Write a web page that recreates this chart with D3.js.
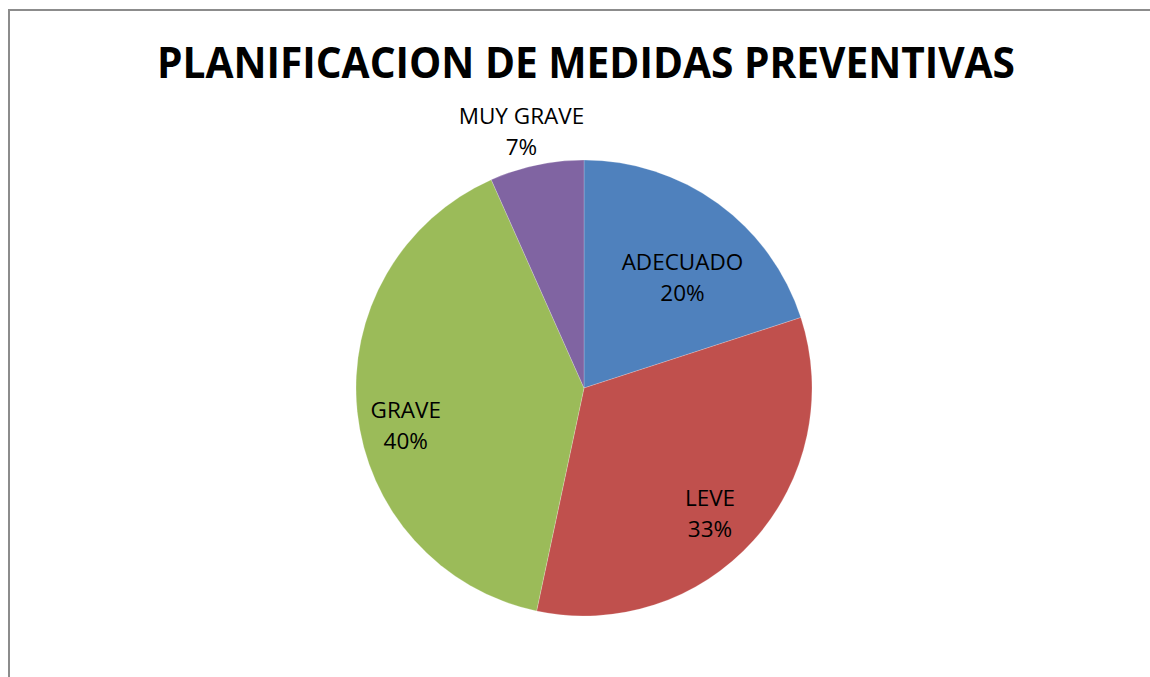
<!DOCTYPE html>
<html><head><meta charset="utf-8">
<script src="https://cdn.jsdelivr.net/npm/d3@7"></script>
<style>html,body{margin:0;padding:0;background:#fff;}svg{display:block;}</style>
</head><body>
<script>
const categories = ["ADECUADO", "LEVE", "GRAVE", "MUY GRAVE"];
const values = [3, 5, 6, 1];
const percentLabels = ["20%", "33%", "40%", "7%"];
const colors = ["#4F81BD", "#C0504D", "#9BBB59", "#8064A2"];
const title = "PLANIFICACION DE MEDIDAS PREVENTIVAS";

// layout-only nudges for the data labels (Excel best-fit placement)
const labelNudge = [[2, 23], [4, 16], [-15, 21], [-9, -4]];

const W = 1150, H = 677;
const svg = d3.select("body").append("svg").attr("width", W).attr("height", H);

svg.append("path").attr("d", "M9,677 V10 H1150")
  .attr("fill", "none").attr("stroke", "#8c8c8c").attr("stroke-width", 2);

svg.append("text").attr("x", 586).attr("y", 78)
  .attr("text-anchor", "middle")
  .attr("font-family", "'Open Sans', sans-serif").attr("font-weight", "bold")
  .attr("font-size", 43).attr("fill", "#000")
  .attr("textLength", 858).attr("lengthAdjust", "spacingAndGlyphs")
  .text(title);

const cx = 584, cy = 388, r = 228;
const data = categories.map((c, i) => ({cat: c, v: values[i], pct: percentLabels[i], color: colors[i]}));
const pie = d3.pie().value(d => d.v).sort(null);
const arc = d3.arc().innerRadius(0).outerRadius(r);
const arcs = pie(data);
const g = svg.append("g").attr("transform", `translate(${cx},${cy})`);
g.selectAll("path").data(arcs).join("path")
  .attr("d", arc).attr("fill", d => d.data.color)
  .attr("stroke", "rgba(255,255,255,0.35)").attr("stroke-width", 0.6);

const inner = d3.arc().innerRadius(r * 0.72).outerRadius(r * 0.72);
const outer = d3.arc().innerRadius(r * 1.13).outerRadius(r * 1.13);
arcs.forEach((a, i) => {
  let [x, y] = (a.data.v / d3.sum(values) < 0.1 ? outer : inner).centroid(a);
  x += labelNudge[i][0]; y += labelNudge[i][1];
  const t = g.append("text").attr("text-anchor", "middle")
    .attr("font-family", "'Open Sans', sans-serif").attr("font-size", 22.5).attr("fill", "#000");
  t.append("tspan").attr("x", x).attr("y", y - 8).text(a.data.cat);
  t.append("tspan").attr("x", x).attr("y", y + 23).text(a.data.pct);
});
</script>
</body></html>
